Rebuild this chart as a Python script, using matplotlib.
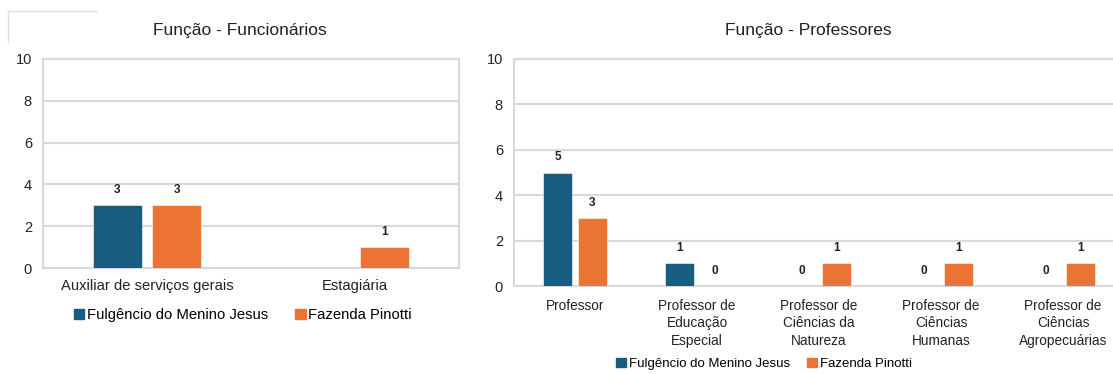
import matplotlib.pyplot as plt
from matplotlib.patches import Patch
from matplotlib.lines import Line2D
import numpy as np

plt.rcParams['font.family'] = ['Liberation Sans', 'DejaVu Sans']

series = ["Fulgêncio do Menino Jesus", "Fazenda Pinotti"]
azul = "#185d7f"
laranja = "#eb7334"

func_cats = ["Auxiliar de serviços gerais", "Estagiária"]
func_fulg = [3, None]
func_faz = [3, 1]

prof_cats = ["Professor", "Professor de\nEducação\nEspecial", "Professor de\nCiências da\nNatureza",
             "Professor de\nCiências\nHumanas", "Professor de\nCiências\nAgropecuárias"]
prof_fulg = [5, 1, 0, 0, 0]
prof_faz = [3, 0, 1, 1, 1]

fig = plt.figure(figsize=(11.13, 3.74), dpi=100)

def grafico(ax, cats, v1, v2, ncats):
    x = np.arange(len(cats))
    w = 0.235
    for vals, off, cor in [(v1, -0.142, azul), (v2, 0.142, laranja)]:
        for xi, v in zip(x, vals):
            if v is None:
                continue
            ax.bar(xi + off, v, w, color=cor, edgecolor="#ffffff", linewidth=0.4, zorder=3)
            ax.annotate(str(v), (xi + off, v), xytext=(0, 6.5), textcoords="offset points",
                        ha="center", va="bottom", fontsize=8.5, fontweight="bold", color="#222222")
    ax.set_xlim(-0.5, ncats - 0.5)
    ax.set_ylim(0, 10)
    ax.set_yticks([0, 2, 4, 6, 8, 10])
    ax.set_xticks(x)
    ax.tick_params(axis="both", length=0, colors="#222222", labelsize=10.5)
    ax.tick_params(axis="y", pad=8)
    ax.grid(axis="y", color="#d9d9d9", linewidth=1.5, zorder=0)
    for s in ax.spines.values():
        s.set_color("#d9d9d9")
        s.set_linewidth(1.5)

ax1 = fig.add_axes([43 / 1113, 1 - 268 / 374, 416 / 1113, 209 / 374])
grafico(ax1, func_cats, func_fulg, func_faz, 2)
ax1.set_xticklabels(func_cats, fontsize=10.6, color="#222222")
ax1.tick_params(axis="x", pad=8)

ax2 = fig.add_axes([514 / 1113, 1 - 286 / 374, 610 / 1113, 227 / 374])
grafico(ax2, prof_cats, prof_fulg, prof_faz, 5)
ax2.set_xticklabels(prof_cats, fontsize=9.8, color="#222222", linespacing=1.35)
ax2.tick_params(axis="x", pad=9)

fig.text(240 / 1113, 1 - 31 / 374, "Função - Funcionários", ha="center", va="center", fontsize=12.5, color="#222222")
fig.text(808 / 1113, 1 - 31 / 374, "Função - Professores", ha="center", va="center", fontsize=12.5, color="#222222")

handles = [Patch(color=azul, label=series[0]), Patch(color=laranja, label=series[1])]
fig.legend(handles=handles, loc="center", bbox_to_anchor=(243 / 1113, 1 - 315 / 374), ncol=2,
           frameon=False, fontsize=10.7, handlelength=0.7, handleheight=0.7, handletextpad=0.2,
           columnspacing=1.8)
fig.legend(handles=handles, loc="center", bbox_to_anchor=(764 / 1113, 1 - 364 / 374), ncol=2,
           frameon=False, fontsize=9.5, handlelength=0.75, handleheight=0.75, handletextpad=0.2,
           columnspacing=1.3)

# moldura parcial no canto superior esquerdo
fig.add_artist(Line2D([8 / 1113, 97 / 1113], [1 - 11 / 374, 1 - 11 / 374], color="#e0e0e0", linewidth=1))
fig.add_artist(Line2D([8 / 1113, 8 / 1113], [1 - 11 / 374, 1 - 42 / 374], color="#e0e0e0", linewidth=1))

fig.savefig("out.png", dpi=100)
